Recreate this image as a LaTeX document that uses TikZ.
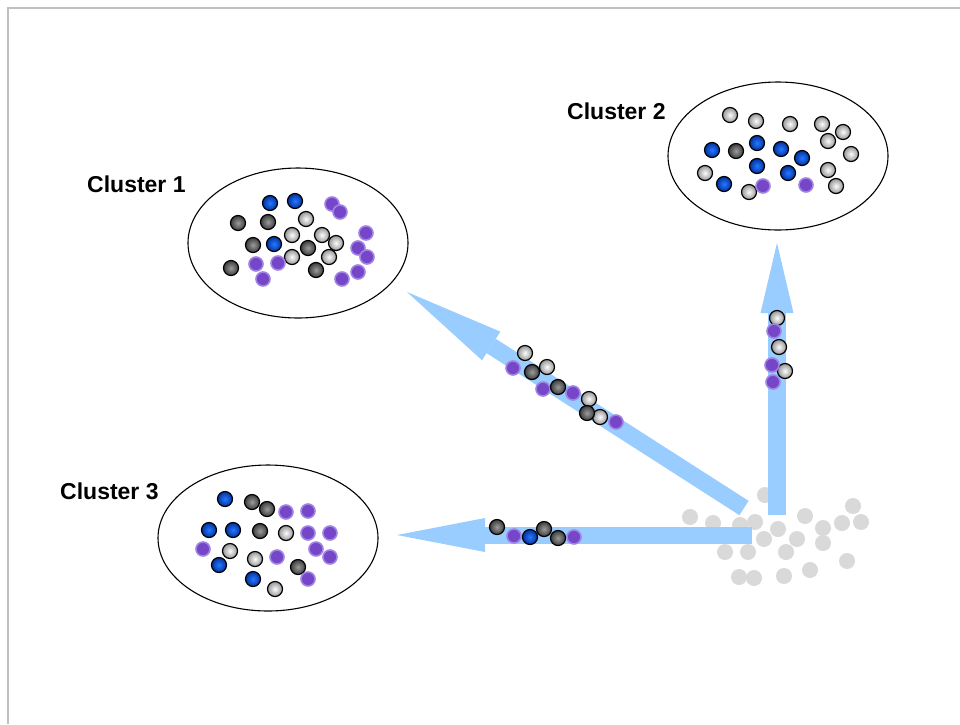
\documentclass[tikz,border=0pt]{standalone}
\usepackage{fontspec}
\setmainfont{Liberation Sans}
\usetikzlibrary{arrows.meta,shapes.geometric}
\definecolor{arrowblue}{RGB}{153,204,255}
\definecolor{bggray}{RGB}{217,217,217}
\definecolor{framegray}{RGB}{192,192,192}
\definecolor{bluein}{RGB}{40,120,255}
\definecolor{blueout}{RGB}{0,50,160}
\definecolor{darkin}{RGB}{155,155,155}
\definecolor{darkout}{RGB}{60,60,60}
\definecolor{lightin}{RGB}{252,252,252}
\definecolor{lightout}{RGB}{150,150,150}
\definecolor{purp}{RGB}{118,70,200}
\definecolor{purpedge}{RGB}{160,130,228}
\tikzset{
  dot/.style={circle,minimum size=15pt,inner sep=0pt},
  dl/.style={dot,draw=black,line width=1.2pt,inner color=lightin,outer color=lightout},
  dd/.style={dot,draw=black,line width=1.2pt,inner color=darkin,outer color=darkout},
  db/.style={dot,draw=black,line width=1.2pt,inner color=bluein,outer color=blueout},
  dp/.style={dot,minimum size=14pt,fill=purp,draw=purpedge,line width=1.6pt},
  dg/.style={dot,minimum size=16pt,fill=bggray},
  cluster/.style={ellipse,draw=black,line width=1.1pt,inner sep=0pt},
  lbl/.style={anchor=base west,inner sep=0pt,font=\bfseries\fontsize{23}{24}\selectfont},
  bigarrow/.style={draw=arrowblue,line cap=butt}
}
\begin{document}
\begin{tikzpicture}[x=1pt,y=-1pt]
\useasboundingbox (0,0) rectangle (960,724);
\draw[framegray,line width=2pt] (7.5,724) -- (7.5,7.5) -- (960,7.5);

% clusters
\node[cluster,minimum width=220pt,minimum height=150pt] (c1) at (298,243) {};
\node[cluster,minimum width=220pt,minimum height=148pt] (c2) at (778,156) {};
\node[cluster,minimum width=220pt,minimum height=146pt] (c3) at (268,538) {};
\node[lbl] (t1) at (87,192) {Cluster 1};
\node[lbl] (t2) at (567,119) {Cluster 2};
\node[lbl] (t3) at (60,499) {Cluster 3};

% background points
\foreach \x/\y [count=\i] in {765/495,690/517,713/523,740/525,755/522,778/529,805/516,823/528,842/523,853/506,861/522,764/539,797/539,823/543,725/552,748/552,786/552,847/561,739/577,754/578,784/576,810/570}
  \node[dg] (g\i) at (\x,\y) {};

% arrows
\coordinate (hs) at (752,535); \coordinate (ht) at (397,535);
\coordinate (vs) at (777,515); \coordinate (vt) at (777,243);
\coordinate (ds) at (744,508); \coordinate (dt) at (407,292);
\draw[bigarrow,line width=17pt,-{Triangle[length=88pt,width=34pt,line width=0pt]}] (hs) -- (ht);
\draw[bigarrow,line width=18pt,-{Triangle[length=70pt,width=33pt,line width=0pt]}] (vs) -- (vt);
\draw[bigarrow,line width=17pt,-{Triangle[length=100pt,width=34pt,line width=0pt]}] (ds) -- (dt);

% cluster 1
\foreach \x/\y [count=\i] in {270/203,295/201,274/244}
  \node[db] (ab\i) at (\x,\y) {};
\foreach \x/\y [count=\i] in {238/223,268/222,253/245,308/248,231/268,316/270}
  \node[dd] (ad\i) at (\x,\y) {};
\foreach \x/\y [count=\i] in {306/219,292/235,322/235,336/243,292/257,329/257}
  \node[dl] (al\i) at (\x,\y) {};
\foreach \x/\y [count=\i] in {332/204,340/212,366/233,358/248,367/257,256/264,278/263,263/279,342/279,358/272}
  \node[dp] (ap\i) at (\x,\y) {};

% cluster 2
\foreach \x/\y [count=\i] in {730/115,756/121,790/124,822/124,843/132,828/141,851/154,828/170,705/173,749/192,836/186}
  \node[dl] (bl\i) at (\x,\y) {};
\foreach \x/\y [count=\i] in {712/150,757/143,781/149,802/158,757/166,788/173,724/184}
  \node[db] (bb\i) at (\x,\y) {};
\node[dd] (bd1) at (736,151) {};
\foreach \x/\y [count=\i] in {763/186,806/185}
  \node[dp] (bp\i) at (\x,\y) {};

% cluster 3
\foreach \x/\y [count=\i] in {225/499,209/530,233/530,219/565,253/579}
  \node[db] (cb\i) at (\x,\y) {};
\foreach \x/\y [count=\i] in {252/502,267/509,260/531,298/567}
  \node[dd] (cd\i) at (\x,\y) {};
\foreach \x/\y [count=\i] in {286/533,230/551,255/559,275/589}
  \node[dl] (cl\i) at (\x,\y) {};
\foreach \x/\y [count=\i] in {286/512,308/511,308/533,330/533,203/549,316/549,330/557,277/557,308/579}
  \node[dp] (cp\i) at (\x,\y) {};

% points moving along diagonal arrow
\foreach \x/\y [count=\i] in {525/353,547/367,589/399,600/417}
  \node[dl] (dl\i) at (\x,\y) {};
\foreach \x/\y [count=\i] in {513/368,543/389,573/393,616/422}
  \node[dp] (dp\i) at (\x,\y) {};
\foreach \x/\y [count=\i] in {532/372,558/387,587/413}
  \node[dd] (dd\i) at (\x,\y) {};

% points moving along horizontal arrow
\foreach \x/\y [count=\i] in {497/527,544/529,558/538}
  \node[dd] (hd\i) at (\x,\y) {};
\foreach \x/\y [count=\i] in {514/536,574/537}
  \node[dp] (hp\i) at (\x,\y) {};
\node[db] (hb1) at (530,537) {};

% points moving along vertical arrow
\foreach \x/\y [count=\i] in {777/318,779/347,785/371}
  \node[dl] (vl\i) at (\x,\y) {};
\foreach \x/\y [count=\i] in {774/331,772/365,773/382}
  \node[dp] (vp\i) at (\x,\y) {};
\end{tikzpicture}
\end{document}
